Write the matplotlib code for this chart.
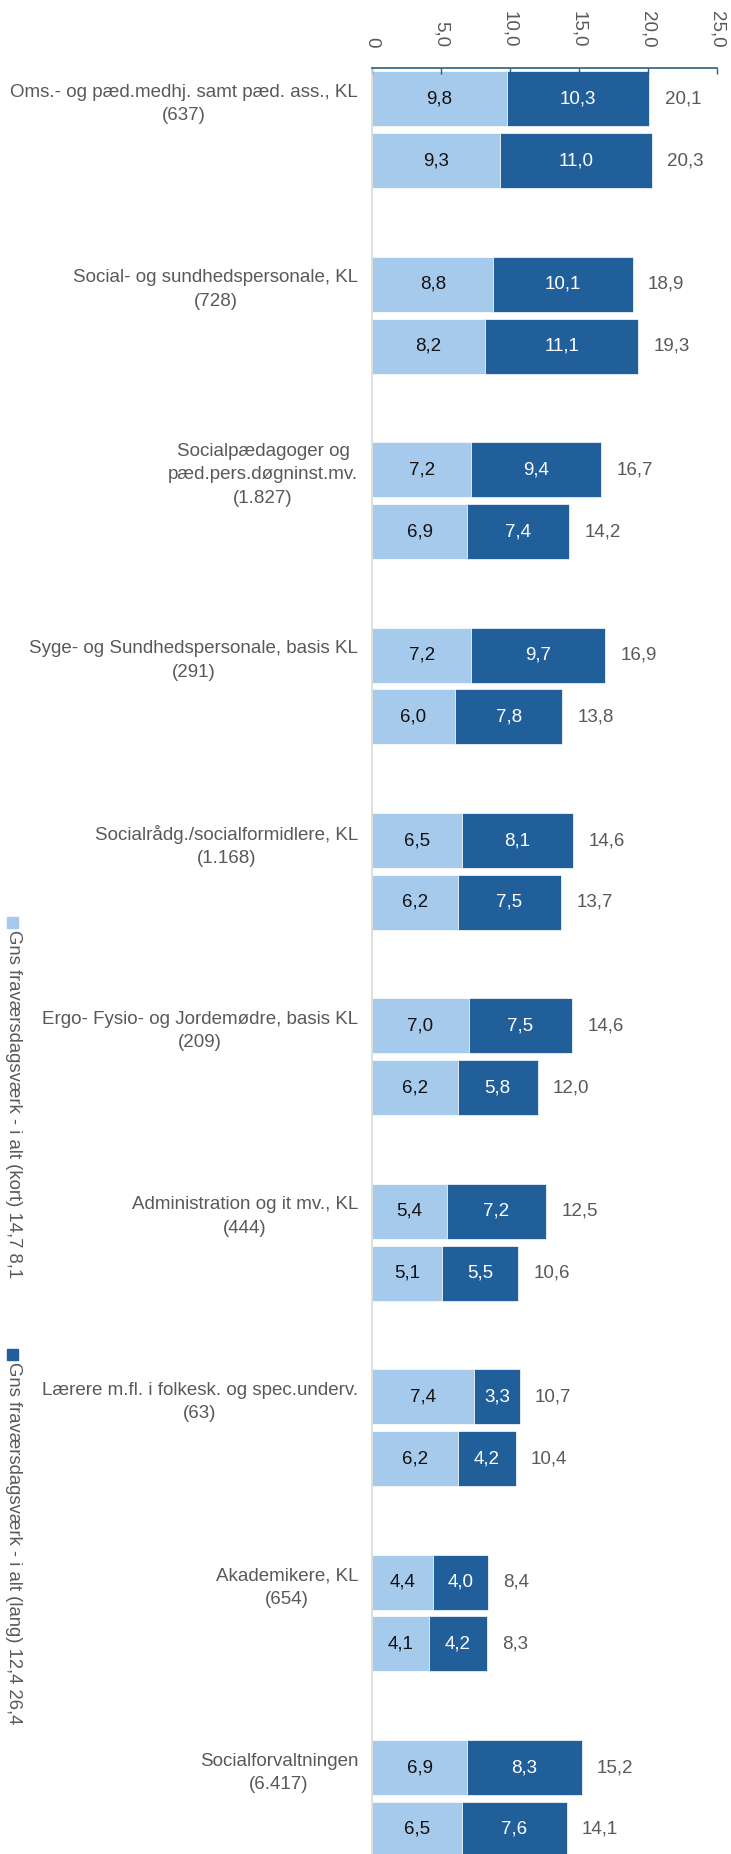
import numpy as np
import matplotlib
matplotlib.use("Agg")
import matplotlib.pyplot as plt
from matplotlib.patches import Rectangle

plt.rcParams['font.family'] = ['Liberation Sans', 'DejaVu Sans']

kategorier = [
    "Oms.- og pæd.medhj. samt pæd. ass., KL\n(637)",
    "Social- og sundhedspersonale, KL\n(728)",
    "Socialpædagoger og\npæd.pers.døgninst.mv.\n(1.827)",
    "Syge- og Sundhedspersonale, basis KL\n(291)",
    "Socialrådg./socialformidlere, KL\n(1.168)",
    "Ergo- Fysio- og Jordemødre, basis KL\n(209)",
    "Administration og it mv., KL\n(444)",
    "Lærere m.fl. i folkesk. og spec.underv.\n(63)",
    "Akademikere, KL\n(654)",
    "Socialforvaltningen\n(6.417)",
]

# to raekker pr. kategori: (forste, anden)
kort_1 = [9.8, 8.8, 7.2, 7.2, 6.5, 7.0, 5.4, 7.4, 4.4, 6.9]
lang_1 = [10.3, 10.1, 9.4, 9.7, 8.1, 7.5, 7.2, 3.3, 4.0, 8.3]
ialt_1 = [20.1, 18.9, 16.7, 16.9, 14.6, 14.6, 12.5, 10.7, 8.4, 15.2]

kort_2 = [9.3, 8.2, 6.9, 6.0, 6.2, 6.2, 5.1, 6.2, 4.1, 6.5]
lang_2 = [11.0, 11.1, 7.4, 7.8, 7.5, 5.8, 5.5, 4.2, 4.2, 7.6]
ialt_2 = [20.3, 19.3, 14.2, 13.8, 13.7, 12.0, 10.6, 10.4, 8.3, 14.1]

xticks = [0, 5, 10, 15, 20, 25]
leg_kort = "Gns fraværsdagsværk - i alt (kort) 14,7 8,1"
leg_lang = "Gns fraværsdagsværk - i alt (lang) 12,4 26,4"

lys = '#A6CAEC'
mork = '#215F9A'
graa = '#595959'
akse = '#2E5E7E'


def komma(v):
    return f"{v:.1f}".replace('.', ',')


W, H = 731, 1854
fig = plt.figure(figsize=(W / 100, H / 100), dpi=100)
ax = fig.add_axes([372 / W, -0.0367, (717 - 372) / W, 1.0])

n = len(kategorier)
y1 = np.arange(n) * 3
y2 = y1 + 1
kort = np.array(kort_1 + kort_2)
lang = np.array(lang_1 + lang_2)
ialt = ialt_1 + ialt_2
y = np.concatenate([y1, y2])

b1 = ax.barh(y, kort, height=0.89, color=lys, edgecolor='white', linewidth=0.5)
b2 = ax.barh(y, lang, left=kort, height=0.89, color=mork, edgecolor='white', linewidth=0.5)

ax.bar_label(b1, labels=[komma(v) for v in kort], label_type='center', color='#111111', fontsize=13.5)
ax.bar_label(b2, labels=[komma(v) for v in lang], label_type='center', color='white', fontsize=13.5)
ax.bar_label(b2, labels=[komma(v) for v in ialt], label_type='edge', padding=11, color=graa, fontsize=13.5)

ax.set_xlim(0, 25)
ax.set_ylim(3 * n - 0.5, -0.5)

ax.xaxis.tick_top()
ax.set_xticks(xticks)
ax.set_xticklabels(["0"] + [komma(v) for v in xticks[1:]], rotation=-90, va='bottom', ha='center',
                   color=graa, fontsize=13.5)
ax.tick_params(axis='x', direction='in', length=4, width=1, color=akse, pad=15)

ax.set_yticks(y1)
ax.set_yticklabels(kategorier, fontsize=13.5, color=graa)
for t in ax.get_yticklabels():
    t.set_multialignment('center')
    t.set_linespacing(1.5)
ax.tick_params(axis='y', length=0, pad=10)

for s in ['right', 'bottom']:
    ax.spines[s].set_visible(False)
ax.spines['top'].set_color(akse)
ax.spines['top'].set_linewidth(1.2)
ax.spines['left'].set_color('#D9D9D9')
ax.spines['left'].set_linewidth(1.2)

# forklaring, roteret langs venstre kant
for ytop, farve, tekst in [(917, lys, leg_kort), (1349, mork, leg_lang)]:
    fig.patches.append(Rectangle((7 / W, 1 - (ytop + 11) / H), 11 / W, 11 / H,
                                 transform=fig.transFigure, color=farve))
    fig.text(13.5 / W, 1 - (ytop + 13) / H, tekst, rotation=-90, ha='center', va='top',
             color=graa, fontsize=13.3)

fig.savefig("out.png", dpi=100)
